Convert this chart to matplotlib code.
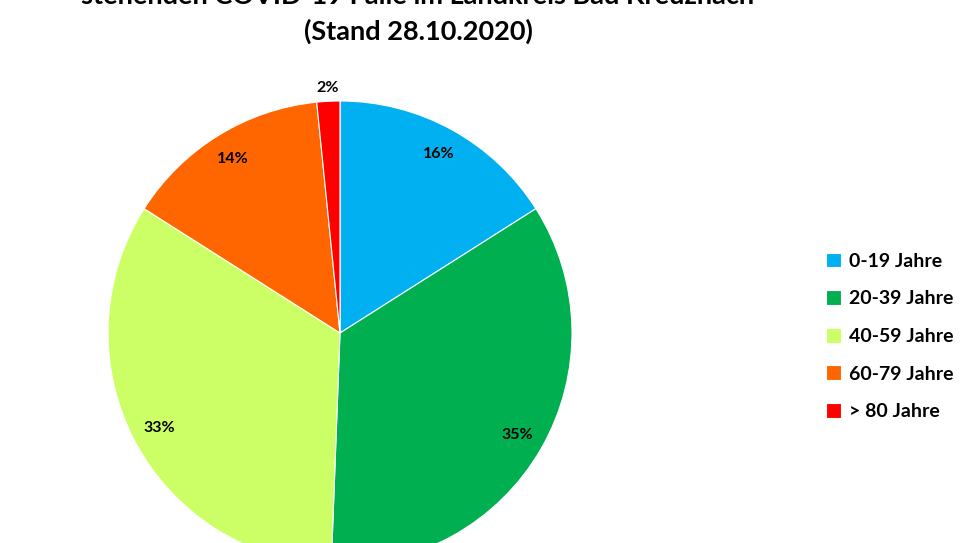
import matplotlib.pyplot as plt

# Altersverteilung der Fälle (Anteile in %)
labels = ["0-19 Jahre", "20-39 Jahre", "40-59 Jahre", "60-79 Jahre", "> 80 Jahre"]
shares = [16.0, 34.6, 33.4, 14.4, 1.6]
colors = ["#00B0F0", "#00B050", "#CCFF66", "#FF6600", "#FF0000"]

title_1 = "stehenden COVID-19 Fälle im Landkreis Bad Kreuznach"
title_2 = "(Stand 28.10.2020)"

plt.rcParams['font.family'] = ['Lato', 'DejaVu Sans']

W, H = 966, 543
fig = plt.figure(figsize=(W / 100, H / 100), dpi=100)
fig.patch.set_facecolor("white")

# pie centre at (340, 333) px, radius 232 px
cx, cy, r = 340, 333, 232
ax = fig.add_axes([(cx - r) / W, (H - cy - r) / H, 2 * r / W, 2 * r / H])

wedges, texts, autotexts = ax.pie(
    shares, colors=colors, startangle=90, counterclock=False,
    autopct='%.0f%%', pctdistance=0.88,
    wedgeprops=dict(edgecolor="white", linewidth=0.8),
    textprops=dict(fontsize=11.5, fontweight="bold", color="black"))
# the small slice has its label outside
autotexts[-1].set_position((autotexts[-1].get_position()[0] * 1.2,
                            autotexts[-1].get_position()[1] * 1.2))
ax.set_xlim(-1, 1)
ax.set_ylim(-1, 1)
ax.axis("off")

# the first title line is cut off at the top, as in the original
fig.text(418 / W, 1 - (-4) / H, title_1, ha="center", va="center",
         fontsize=19.5, fontweight="bold")
fig.text(418 / W, 1 - 31 / H, title_2, ha="center", va="center",
         fontsize=19.5, fontweight="bold")

fig.legend(wedges, labels, loc="upper left",
           bbox_to_anchor=(808 / W, 1 - 235 / H), frameon=False,
           prop=dict(weight="bold", size=14),
           handlelength=0.8, handleheight=0.8, handletextpad=0.4,
           labelspacing=1.05)

fig.savefig("out.png", dpi=100)
